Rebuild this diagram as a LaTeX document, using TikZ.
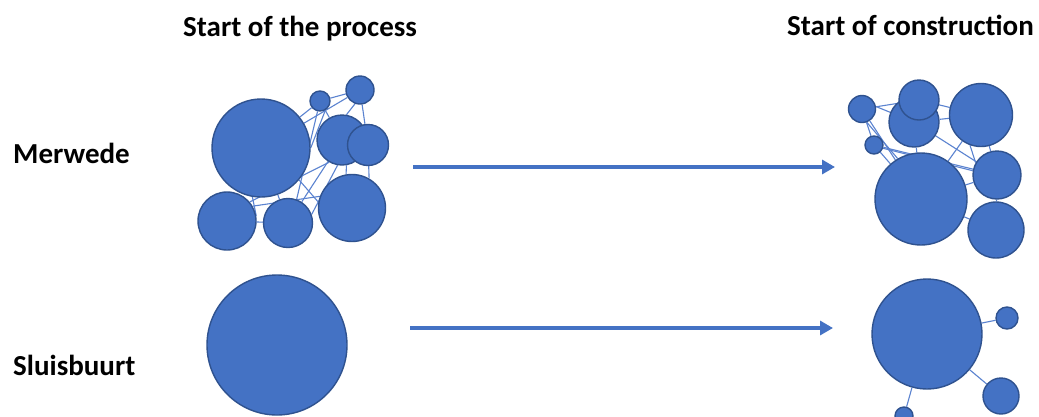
\documentclass[tikz,border=0pt]{standalone}
\usepackage{fontspec}
\setmainfont{Carlito}
\usetikzlibrary{arrows.meta}
\pgfdeclarelayer{background}
\pgfdeclarelayer{canvas}
\pgfsetlayers{canvas,background,main}
\definecolor{fillblue}{HTML}{4472C4}
\definecolor{edgeblue}{HTML}{2F528F}
\definecolor{linkblue}{HTML}{5B83D0}
\tikzset{
  bub/.style={circle, fill=fillblue, draw=edgeblue, line width=1.4pt, inner sep=0pt, minimum size=#1},
  link/.style={draw=linkblue, line width=1.1pt},
  lbl/.style={font=\fontsize{29}{31}\selectfont\bfseries, anchor=base west, inner sep=0pt},
  flow/.style={draw=fillblue, line width=3.2pt, -{Triangle[length=13pt,width=14pt]}}
}
\begin{document}
\begin{tikzpicture}[x=1pt,y=-1pt]
\clip (0,0) rectangle (1039,416);
\begin{pgfonlayer}{canvas}
\fill[white] (0,0) rectangle (1039,416);
\end{pgfonlayer}
% labels
\node[lbl] (t1) at (183,36) {Start of the process};
\node[lbl] (t2) at (787,35) {Start of construction};
\node[lbl] (m) at (13,163) {Merwede};
\node[lbl] (s) at (13,375) {Sluisbuurt};
% arrows
\coordinate (f1) at (413,167);
\coordinate (g1) at (835,167);
\coordinate (f2) at (410,328);
\coordinate (g2) at (833,328);
\draw[flow] (f1) -- (g1);
\draw[flow] (f2) -- (g2);
% top-left cluster
\node[bub=98pt] (a1) at (261,148) {};
\node[bub=20pt] (a2) at (320,101) {};
\node[bub=28pt] (a3) at (360,90) {};
\node[bub=50pt] (a4) at (342,140) {};
\node[bub=41pt] (a5) at (368,145) {};
\node[bub=58pt] (a6) at (227,221) {};
\node[bub=49pt] (a7) at (288,223) {};
\node[bub=67pt] (a8) at (352,208) {};
\begin{pgfonlayer}{background}
\draw[link] (a1) -- (a2);
\draw[link] (a1.30) -- (a3);
\draw[link] (a2) -- (a3);
\draw[link] (a2.-60) -- (a1.0);
\draw[link] (a2) -- (a4);
\draw[link] (a3.-110) -- (a4.80);
\draw[link] (a3) -- (a5);
\draw[link] (a4.-80) -- (a8.100);
\draw[link] (a5) -- (a8.60);
\draw[link] (a1.-40) -- (a8.170);
\draw[link] (a4.-120) -- (a6.40);
\draw[link] (a4) -- (a7);
\draw[link] (a2) -- (a7.70);
\draw[link] (a1) -- (a7);
\draw[link] (a6) -- (a7);
\draw[link] (a1.-100) -- (a6.10);
\draw[link] (a6.30) -- (a8.160);
\draw[link] (a4.-100) -- (a7.20);
\end{pgfonlayer}
% top-right cluster
\node[bub=27pt] (b1) at (862,109) {};
\node[bub=50pt] (b3) at (914,122) {};
\node[bub=40pt] (b2) at (919,100) {};
\node[bub=63pt] (b4) at (981,115) {};
\node[bub=18pt] (b5) at (874,145) {};
\node[bub=92pt] (b6) at (921,199) {};
\node[bub=48pt] (b7) at (997,175) {};
\node[bub=56pt] (b8) at (996,230) {};
\begin{pgfonlayer}{background}
\draw[link] (b1) -- (b2);
\draw[link] (b1.10) -- (b3);
\draw[link] (b1) -- (b6);
\draw[link] (b1.-70) -- (b6.120);
\draw[link] (b1) -- (b5);
\draw[link] (b5) -- (b6);
\draw[link] (b5) -- (b7);
\draw[link] (b2) -- (b4);
\draw[link] (b3) -- (b4);
\draw[link] (b3) -- (b6);
\draw[link] (b4) -- (b6);
\draw[link] (b4.-110) -- (b7.150);
\draw[link] (b4) -- (b7);
\draw[link] (b3) -- (b7);
\draw[link] (b6) -- (b7);
\draw[link] (b6) -- (b8);
\draw[link] (b7) -- (b8);
\draw[link] (b5.-20) -- (b7.170);
\end{pgfonlayer}
% bottom
\node[bub=140pt] (c0) at (277,345) {};
\node[bub=110pt] (c1) at (927,334) {};
\node[bub=22pt] (c2) at (1007,318) {};
\node[bub=36pt] (c3) at (1001,396) {};
\node[bub=18pt] (c4) at (904,416) {};
\begin{pgfonlayer}{background}
\draw[link] (c1) -- (c2);
\draw[link] (c1) -- (c3);
\draw[link] (c1) -- (c4);
\end{pgfonlayer}
\end{tikzpicture}
\end{document}
